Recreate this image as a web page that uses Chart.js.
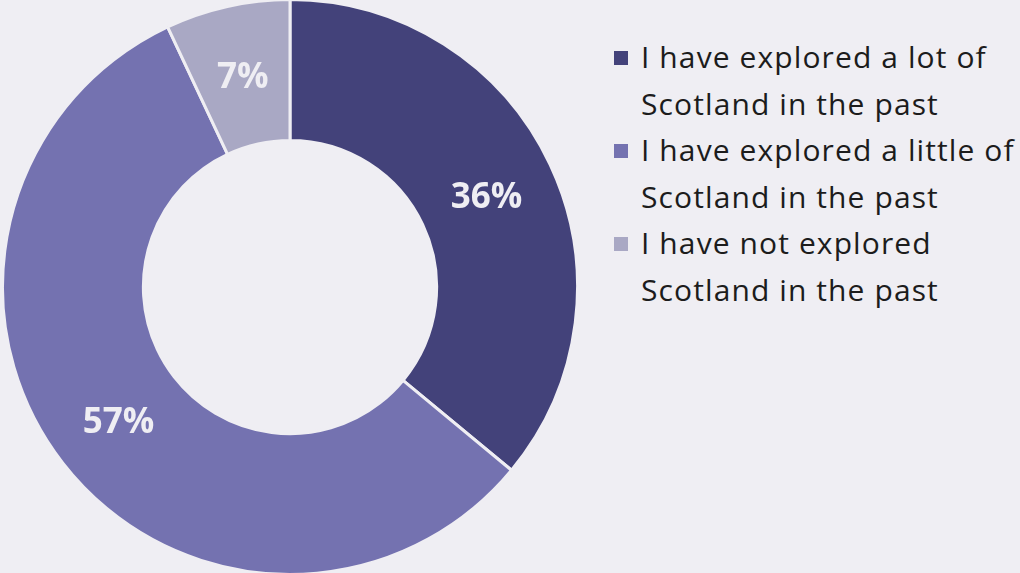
<!DOCTYPE html>
<html>
<head>
<meta charset="utf-8">
<script src="https://cdn.jsdelivr.net/npm/chart.js@4/dist/chart.umd.min.js"></script>
<style>
  html, body { margin: 0; padding: 0; background: #efeef3; }
  body { width: 1020px; height: 573px; position: relative; overflow: hidden; font-family: "Open Sans", sans-serif; }
  #wrap { position: absolute; left: -2px; top: -2px; width: 584px; height: 578px; }
  #legend { position: absolute; left: 612px; top: 34px; color: #1c1c1c; font-size: 30px; line-height: 46.5px; letter-spacing: 1.1px; white-space: nowrap; }
  .item { position: relative; padding-left: 29px; }
  .box { position: absolute; left: 2px; top: 17px; width: 14px; height: 14px; }
</style>
</head>
<body>
<div id="wrap"><canvas id="donut"></canvas></div>
<div id="legend"></div>
<script>
const categories = [
    ['I have explored a lot of', 'Scotland in the past'],
    ['I have explored a little of', 'Scotland in the past'],
    ['I have not explored', 'Scotland in the past']
];
const percentages = [36, 57, 7];
const colors = ['#43427a', '#7472b0', '#a9a8c4'];

const bg = '#efeef3';

// html legend
const legend = document.getElementById('legend');
categories.forEach((lines, i) => {
    const div = document.createElement('div');
    div.className = 'item';
    div.innerHTML = `<span class="box" style="background:${colors[i]}"></span>${lines.join('<br>')}`;
    legend.appendChild(div);
});

const sliceLabels = {
    id: 'sliceLabels',
    afterDatasetsDraw(chart) {
        const ctx = chart.ctx;
        const meta = chart.getDatasetMeta(0);
        ctx.save();
        ctx.fillStyle = bg;
        ctx.font = 'bold 35px "Open Sans", sans-serif';
        ctx.textAlign = 'center';
        ctx.textBaseline = 'middle';
        meta.data.forEach((arc, i) => {
            const p = arc.tooltipPosition();
            ctx.fillText(percentages[i] + '%', p.x, p.y + 3);
        });
        ctx.restore();
    }
};

new Chart(document.getElementById('donut'), {
    type: 'doughnut',
    data: {
        labels: categories.map(l => l.join(' ')),
        datasets: [{
            data: percentages,
            backgroundColor: colors,
            borderColor: bg,
            borderWidth: 3
        }]
    },
    options: {
        responsive: true,
        maintainAspectRatio: false,
        animation: false,
        cutout: '51%',
        plugins: {
            legend: { display: false },
            tooltip: { enabled: false }
        }
    },
    plugins: [sliceLabels]
});
</script>
</body>
</html>
